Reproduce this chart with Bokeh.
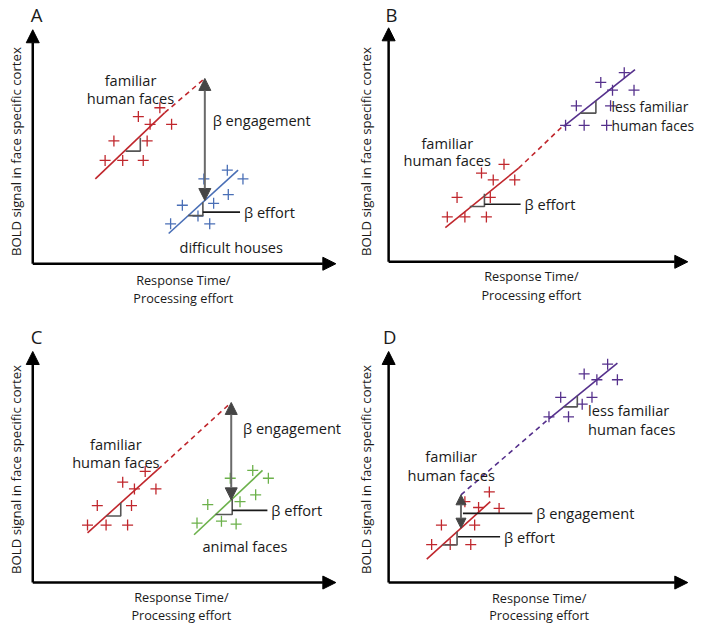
import math
from bokeh.plotting import figure
from bokeh.models import Range1d, Arrow, NormalHead
from bokeh.layouts import gridplot
from bokeh.core.properties import value
from bokeh.embed import file_html
from bokeh.resources import INLINE

# ---------------- data (conceptual units: response time vs BOLD) ----------------
# Panel A
A_fam_x = [74, 92, 113, 83, 117, 108, 120, 130, 142]
A_fam_y = [106, 106, 106, 126, 126, 151, 143, 160, 143]
A_fam_line_x = [64, 135, 177]
A_fam_line_y = [87, 155, 191]
A_house_x = [141, 169, 181, 153, 185, 200, 175, 199, 215]
A_house_y = [41, 49, 41, 60, 62, 71, 87, 96, 87]
A_house_line_x = [139, 210]
A_house_line_y = [31, 96]

# Panel B
B_fam_x = [60, 78, 100, 70, 104, 95, 107, 118, 129]
B_fam_y = [46, 46, 46, 66, 66, 91, 84, 100, 84]
B_fam_line_x = [58, 133, 179]
B_fam_line_y = [35, 96, 140]
B_less_x = [181, 200, 223, 192, 227, 217, 229, 241, 251]
B_less_y = [140, 140, 140, 160, 160, 184, 176, 194, 176]
B_less_line_x = [179, 252]
B_less_line_y = [139, 197]

# Panel C
C_fam_x = [56, 75, 97, 66, 101, 92, 104, 115, 126]
C_fam_y = [59, 59, 59, 79, 79, 103, 96, 114, 96]
C_fam_line_x = [56, 128, 200]
C_fam_line_y = [51, 116, 182]
C_animal_x = [168, 193, 208, 179, 212, 228, 202, 225, 241]
C_animal_y = [61, 63, 60, 80, 83, 90, 107, 115, 107]
C_animal_line_x = [165, 235]
C_animal_line_y = [49, 115]

# Panel D
D_fam_x = [44, 63, 84, 54, 88, 78, 92, 103, 113]
D_fam_y = [39, 39, 39, 59, 59, 83, 77, 93, 76]
D_fam_line_x = [39, 104]
D_fam_line_y = [24, 83]
D_less_x = [164, 184, 198, 176, 208, 213, 200, 224, 234]
D_less_y = [170, 170, 183, 190, 190, 208, 214, 224, 208]
D_less_line_x = [74, 164, 234]
D_less_line_y = [90, 168, 225]

Y_LABEL = "BOLD signal in face specific cortex"
X_LABEL = ["Response Time/", "Processing effort"]

# ---------------- styles ----------------
RED = "#c0272d"
BLUE = "#4a6fb6"
PURPLE = "#55308c"
GREEN = "#6cb14b"
TRI = "#555555"
ARR_LINE = "#6a6a6a"
ARR_HEAD = "#454545"
INK = "#1a1a1a"
FONT = value("Open Sans")
ANN = "14.6px"


def line_at(lx, ly, x):
    # value of the straight line through first and last point at x
    x0, x1, y0, y1 = lx[0], lx[-1], ly[0], ly[-1]
    return y0 + (y1 - y0) * (x - x0) / (x1 - x0)


def make_panel(xr, yr, h, letter, letter_pos, ylab_pos, xlab_pos, xtip, ytip):
    p = figure(width=350, height=h, x_range=Range1d(*xr), y_range=Range1d(*yr),
               output_backend="svg", toolbar_location=None,
               x_axis_location=None, y_axis_location=None, min_border=0,
               outline_line_color=None, background_fill_color="white",
               border_fill_color="white")
    p.grid.visible = False
    # axes as arrows
    for (xs, ys, xe, ye) in [(0, 0, 0, ytip), (0, 0, xtip, 0)]:
        p.add_layout(Arrow(x_start=xs, y_start=ys, x_end=xe, y_end=ye,
                           line_color="black", line_width=2.5,
                           end=NormalHead(size=13, fill_color="black", line_color="black")))
    p.text(x=[letter_pos[0]], y=[letter_pos[1]], text=[letter], text_font=FONT,
           text_font_size="18.5px", text_align="center", text_baseline="middle", text_color=INK)
    p.text(x=[ylab_pos[0]], y=[ylab_pos[1]], text=[Y_LABEL], angle=math.pi / 2,
           text_font=FONT, text_font_size="13.2px", text_align="center",
           text_baseline="middle", text_color=INK)
    p.text(x=[xlab_pos[0], xlab_pos[0]], y=[xlab_pos[1], xlab_pos[2]], text=X_LABEL,
           text_font=FONT, text_font_size="12.7px", text_align="center",
           text_baseline="middle", text_color=INK)
    return p


def cluster(p, xs, ys, lx, ly, color, dashed_first=False):
    p.scatter(xs, ys, marker="cross", size=11, line_color=color, line_width=1.3)
    if len(lx) == 3:
        if dashed_first:
            p.line(lx[:2], ly[:2], line_color=color, line_width=1.6, line_dash="5 4")
            p.line(lx[1:], ly[1:], line_color=color, line_width=1.6)
        else:
            p.line(lx[:2], ly[:2], line_color=color, line_width=1.6)
            p.line(lx[1:], ly[1:], line_color=color, line_width=1.6, line_dash="5 4")
    else:
        p.line(lx, ly, line_color=color, line_width=1.6)


def triangle(p, lx, ly, x0, w):
    y0 = line_at(lx, ly, x0)
    y1 = line_at(lx, ly, x0 + w)
    p.line([x0, x0 + w, x0 + w], [y0, y0, y1], line_color=TRI, line_width=1.6)


def leader(p, x0, x1, y, label):
    p.line([x0, x1], [y, y], line_color=INK, line_width=1.6)
    p.text(x=[x1 + 4], y=[y], text=[label], text_font=FONT, text_font_size=ANN,
           text_align="left", text_baseline="middle", text_color=INK)


def label(p, x, ys, lines, align="center", size=ANN):
    p.text(x=[x] * len(lines), y=ys, text=lines, text_font=FONT, text_font_size=size,
           text_align=align, text_baseline="middle", text_color=INK)


def engage_arrow(p, x, y_top, y_bot, size=12):
    p.add_layout(Arrow(x_start=x, y_start=y_top, x_end=x, y_end=y_bot,
                       line_color=ARR_LINE, line_width=2,
                       start=NormalHead(size=size, fill_color=ARR_HEAD, line_color=ARR_HEAD),
                       end=NormalHead(size=size, fill_color=ARR_HEAD, line_color=ARR_HEAD)))


# ---------------- Panel A ----------------
pA = make_panel((-33, 325), (-50, 270), 312, "A", (4, 256), (-17, 115), (154, -17, -35), 310, 240)
cluster(pA, A_fam_x, A_fam_y, A_fam_line_x, A_fam_line_y, RED)
cluster(pA, A_house_x, A_house_y, A_house_line_x, A_house_line_y, BLUE)
triangle(pA, A_fam_line_x, A_fam_line_y, 95, 15)
triangle(pA, A_house_line_x, A_house_line_y, 159, 15)
engage_arrow(pA, 176, line_at(A_fam_line_x, A_fam_line_y, 176),
             line_at(A_house_line_x, A_house_line_y, 176))
pA.text(x=[184], y=[147], text=["β engagement"], text_font=FONT, text_font_size=ANN,
        text_align="left", text_baseline="middle", text_color=INK)
leader(pA, 174, 212, 53, "β effort")
label(pA, 100, [188, 170], ["familiar", "human faces"])
label(pA, 203, [17], ["difficult houses"])

# ---------------- Panel B ----------------
pB = make_panel((-39, 319), (-52, 268), 312, "B", (3, 254), (-23, 113), (146, -15, -34), 306, 240)
cluster(pB, B_fam_x, B_fam_y, B_fam_line_x, B_fam_line_y, RED)
cluster(pB, B_less_x, B_less_y, B_less_line_x, B_less_line_y, PURPLE)
triangle(pB, B_fam_line_x, B_fam_line_y, 83, 15)
triangle(pB, B_less_line_x, B_less_line_y, 196, 16)
leader(pB, 98, 135, 59, "β effort")
label(pB, 228, [159, 140], ["less familiar", "human faces"], align="left", size="13.8px")
label(pB, 60, [122, 104], ["familiar", "human faces"])

# ---------------- Panel C ----------------
pC = make_panel((-33, 325), (-42, 277), 311, "C", (4, 252), (-17, 116), (152, -15, -33), 310, 237)
cluster(pC, C_fam_x, C_fam_y, C_fam_line_x, C_fam_line_y, RED)
cluster(pC, C_animal_x, C_animal_y, C_animal_line_x, C_animal_line_y, GREEN)
triangle(pC, C_fam_line_x, C_fam_line_y, 75, 15)
triangle(pC, C_animal_line_x, C_animal_line_y, 187, 17)
engage_arrow(pC, 203, line_at(C_fam_line_x, C_fam_line_y, 203),
             line_at(C_animal_line_x, C_animal_line_y, 203))
pC.text(x=[215], y=[159], text=["β engagement"], text_font=FONT, text_font_size=ANN,
        text_align="left", text_baseline="middle", text_color=INK)
leader(pC, 204, 240, 74, "β effort")
label(pC, 85, [142, 124], ["familiar", "human faces"])
label(pC, 217, [38], ["animal faces"])

# ---------------- Panel D ----------------
pD = make_panel((-39, 319), (-42, 277), 311, "D", (1, 252), (-23, 116), (154, -16, -33), 306, 237)
cluster(pD, D_fam_x, D_fam_y, D_fam_line_x, D_fam_line_y, RED)
cluster(pD, D_less_x, D_less_y, D_less_line_x, D_less_line_y, PURPLE, dashed_first=True)
triangle(pD, D_fam_line_x, D_fam_line_y, 55, 15)
triangle(pD, D_less_line_x[1:], D_less_line_y[1:], 179, 14)
engage_arrow(pD, 74, D_less_line_y[0], line_at(D_fam_line_x, D_fam_line_y, 74), size=10)
leader(pD, 76, 147, 71, "β engagement")
leader(pD, 71, 114, 47, "β effort")
label(pD, 204, [177, 158], ["less familiar", "human faces"], align="left")
label(pD, 64, [130, 110], ["familiar", "human faces"])

grid = gridplot([[pA, pB], [pC, pD]], toolbar_location=None)

open("out.html", "w").write(file_html(grid, INLINE))
